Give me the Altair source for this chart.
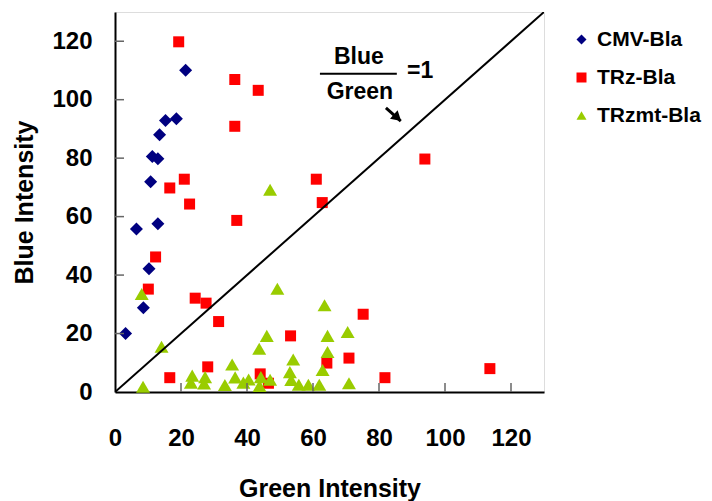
import altair as alt
import pandas as pd

# ---- data ----
cmv_x = [3.2, 8.6, 10.3, 6.5, 13.0, 10.8, 11.3, 13.0, 13.5, 15.3, 18.6, 21.4]
cmv_y = [20.0, 28.8, 42.2, 55.8, 57.6, 71.9, 80.6, 79.8, 88.0, 92.9, 93.5, 110.1]

trz_x = [19.3, 36.3, 43.4, 36.3, 93.9, 21.0, 61.0, 16.6, 22.6, 62.8, 36.9, 12.3, 10.1,
         24.3, 27.6, 75.2, 31.4, 53.2, 70.9, 64.2, 28.1, 113.6, 44.0, 16.6, 81.8, 46.5]
trz_y = [119.8, 106.9, 103.2, 90.9, 79.7, 72.8, 72.8, 69.8, 64.3, 64.8, 58.7, 46.2, 35.2,
         32.1, 30.4, 26.6, 24.1, 19.2, 11.6, 9.9, 8.6, 8.0, 6.2, 4.9, 4.9, 3.0]

trzmt_x = [8.1, 14.1, 8.5, 23.4, 23.0, 27.3, 27.0, 33.3, 35.5, 36.4, 38.9, 40.5, 43.7, 46.0,
           44.2, 43.8, 47.0, 47.0, 49.2, 54.0, 53.0, 53.4, 55.7, 58.6, 61.9, 62.9, 63.5,
           64.4, 64.4, 70.5, 70.9]
trzmt_y = [33.5, 15.5, 1.8, 5.6, 3.2, 5.1, 2.9, 2.4, 9.4, 5.0, 3.2, 4.3, 14.8, 19.2,
           5.1, 2.1, 4.2, 69.2, 35.3, 11.1, 6.8, 4.1, 2.5, 2.5, 2.5, 7.5, 29.7,
           19.2, 13.7, 20.5, 3.0]

series_names = ["CMV-Bla", "TRz-Bla", "TRzmt-Bla"]
series_colors = ["#000080", "#FF0000", "#99CC00"]
series_shapes = ["diamond", "square", "triangle-up"]

tick_values = [0, 20, 40, 60, 80, 100, 120]
inner_ticks = [20, 40, 60, 80, 100, 120]
axis_max = 130

diag_x = [0, 130]
diag_y = [0, 130]

ann_texts = ["Blue", "Green", "=1"]
ann_x = [73.9, 74.2, 88.5]
ann_y = [114.7, 102.8, 109.9]
ann_align = ["center", "center", "left"]
frac_x = [62.1, 85.4]
frac_y = [108.9, 108.9]
arrow_x = [82.1, 86.6]
arrow_y = [97.2, 92.7]
head_x = [85.6]
head_y = [93.8]

# ---- build tables ----
rows = []
for name, xs, ys in zip(series_names, [cmv_x, trz_x, trzmt_x], [cmv_y, trz_y, trzmt_y]):
    for xv, yv in zip(xs, ys):
        rows.append({"series": name, "green": xv, "blue": yv})
df = pd.DataFrame(rows)

W, H = 429, 380
FONT = "Liberation Sans"

xscale = alt.Scale(domain=[0, axis_max], nice=False, zero=True)
yscale = alt.Scale(domain=[0, axis_max], nice=False, zero=True)

xaxis = alt.Axis(values=tick_values, title="Green Intensity", grid=False, tickSize=0,
                 labelPadding=34, titlePadding=26, labelFontSize=24, titleFontSize=25,
                 labelFont=FONT, titleFont=FONT, labelFontWeight="bold",
                 titleFontWeight="bold", domainColor="black", domainWidth=2,
                 labelColor="black", titleColor="black", labelFlush=False)
yaxis = alt.Axis(values=tick_values, title="Blue Intensity", grid=False, tickSize=0,
                 labelPadding=23, titlePadding=14, labelFontSize=24, titleFontSize=25,
                 labelFont=FONT, titleFont=FONT, labelFontWeight="bold",
                 titleFontWeight="bold", domainColor="black", domainWidth=2,
                 labelColor="black", titleColor="black", labelFlush=False)

points = alt.Chart(df).transform_calculate(
    idx="datum.series == 'CMV-Bla' ? 0 : (datum.series == 'TRz-Bla' ? 1 : 2)",
    sz="datum.series == 'CMV-Bla' ? 169 : (datum.series == 'TRz-Bla' ? 121 : 195)",
).mark_point(filled=True, opacity=1, strokeWidth=0).encode(
    x=alt.X("green:Q", scale=xscale, axis=xaxis),
    y=alt.Y("blue:Q", scale=yscale, axis=yaxis),
    color=alt.Color("series:N",
                    scale=alt.Scale(domain=series_names, range=series_colors),
                    legend=alt.Legend(title=None, orient="none", legendX=456, legendY=17,
                                      labelFont=FONT, labelFontSize=21,
                                      labelFontWeight="bold", labelColor="black",
                                      symbolSize=100, rowPadding=16, labelOffset=5,
                                      padding=0, symbolStrokeWidth=0)),
    shape=alt.Shape("series:N",
                    scale=alt.Scale(domain=series_names, range=series_shapes)),
    size=alt.Size("sz:Q", scale=None),
    order=alt.Order("idx:Q"),
)

diag = alt.Chart(pd.DataFrame({"x": diag_x, "y": diag_y})).mark_line(
    color="black", strokeWidth=2, clip=True).encode(
    x=alt.X("x:Q", scale=xscale), y=alt.Y("y:Q", scale=yscale))

xticks = alt.Chart(pd.DataFrame({"v": inner_ticks})).mark_rule(
    color="#666666", strokeWidth=1.5).encode(
    x=alt.X("v:Q", scale=xscale), y=alt.value(H), y2=alt.value(H - 9))
yticks = alt.Chart(pd.DataFrame({"v": inner_ticks})).mark_rule(
    color="#666666", strokeWidth=1.5).encode(
    y=alt.Y("v:Q", scale=yscale), x=alt.value(0), x2=alt.value(9))

ann = alt.Chart(pd.DataFrame({"t": ann_texts, "x": ann_x, "y": ann_y, "a": ann_align}))
ann_center = ann.transform_filter("datum.a == 'center'").mark_text(
    font=FONT, fontSize=23, fontWeight="bold", color="black", align="center",
    baseline="middle").encode(x=alt.X("x:Q", scale=xscale), y=alt.Y("y:Q", scale=yscale),
                              text="t:N")
ann_left = ann.transform_filter("datum.a == 'left'").mark_text(
    font=FONT, fontSize=23, fontWeight="bold", color="black", align="left",
    baseline="middle").encode(x=alt.X("x:Q", scale=xscale), y=alt.Y("y:Q", scale=yscale),
                              text="t:N")

frac = alt.Chart(pd.DataFrame({"x": [frac_x[0]], "x2": [frac_x[1]], "y": [frac_y[0]]})).mark_rule(
    color="black", strokeWidth=2).encode(
    x=alt.X("x:Q", scale=xscale), x2="x2:Q", y=alt.Y("y:Q", scale=yscale))

arrow = alt.Chart(pd.DataFrame({"x": [arrow_x[0]], "x2": [arrow_x[1]],
                                "y": [arrow_y[0]], "y2": [arrow_y[1]]})).mark_rule(
    color="black", strokeWidth=3).encode(
    x=alt.X("x:Q", scale=xscale), x2="x2:Q",
    y=alt.Y("y:Q", scale=yscale), y2="y2:Q")

head = alt.Chart(pd.DataFrame({"x": head_x, "y": head_y})).mark_point(
    shape="triangle-right", filled=True, color="black", opacity=1, size=130, angle=42,
    strokeWidth=0).encode(x=alt.X("x:Q", scale=xscale), y=alt.Y("y:Q", scale=yscale))

chart = alt.layer(points, diag, xticks, yticks, frac, arrow, head, ann_center, ann_left).properties(
    width=W, height=H,
    autosize=alt.AutoSizeParams(type="none"),
    padding={"left": 107, "top": 4, "right": 160, "bottom": 109},
).configure_view(stroke="black", strokeWidth=1.5).configure(background="white")

chart.save("out.html", embed_options={"renderer": "svg", "actions": False})
